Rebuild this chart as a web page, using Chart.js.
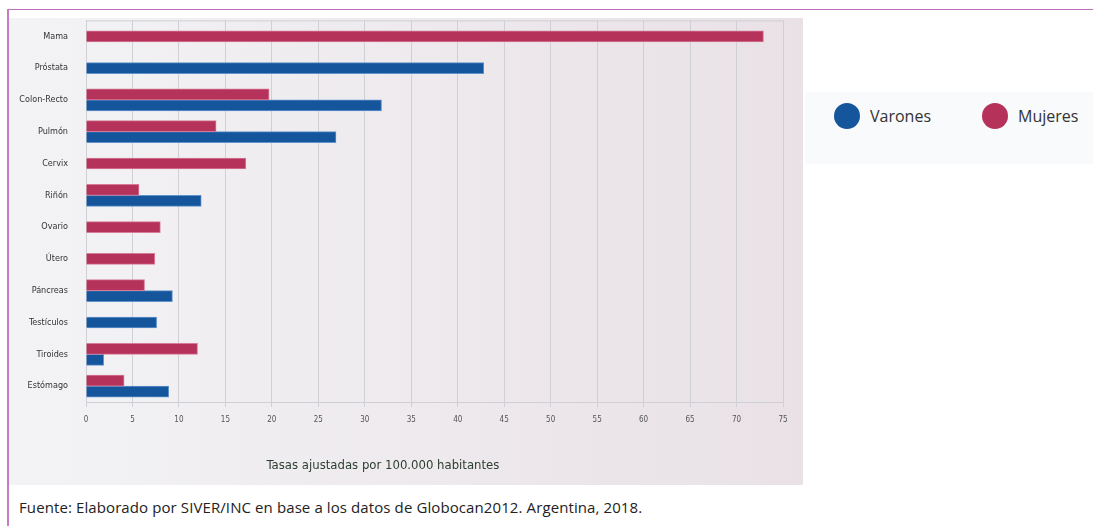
<!DOCTYPE html>
<html>
<head>
<meta charset="utf-8">
<script src="https://cdn.jsdelivr.net/npm/chart.js@4"></script>
<style>
    body { margin: 0; width: 1093px; height: 526px; background: #fff; position: relative; overflow: hidden; font-family: 'Open Sans', sans-serif; }
    .frame-top { position: absolute; left: 7px; top: 9px; right: 0; height: 1px; background: #c070c0; z-index: 2; }
    .frame-left { position: absolute; left: 7px; top: 9px; bottom: 0; width: 2px; background: #c47cc4; z-index: 2; }
    .panel { position: absolute; left: 8px; top: 18px; width: 795px; height: 467px; background: linear-gradient(to right, #f3f3f5, #e9e1e6); }
    .chart-box { position: absolute; left: 8px; top: 13px; width: 795px; height: 472px; }
    .legend { position: absolute; left: 805px; top: 92px; width: 288px; height: 72px; background: #f8fafb; }
    .legend-item { position: absolute; top: 11px; display: flex; align-items: center; font-size: 16px; color: #333; }
    .legend-dot { width: 26px; height: 26px; border-radius: 50%; margin-right: 10px; }
    .axis-title { position: absolute; left: 183px; width: 400px; top: 457px; text-align: center; font-family: 'Liberation Sans Narrow', 'DejaVu Sans Condensed', sans-serif; font-size: 13px; color: #2c3f31; }
    .source { position: absolute; left: 19px; top: 497px; font-size: 15px; color: #222; letter-spacing: 0.1px; }
</style>
</head>
<body>
<div class="frame-top"></div>
<div class="frame-left"></div>
<div class="panel"></div>
<div class="chart-box"><canvas id="chart"></canvas></div>
<div class="axis-title">Tasas ajustadas por 100.000 habitantes</div>
<div class="legend">
    <div class="legend-item" style="left: 29px;"><div class="legend-dot" style="background: #15559c"></div>Varones</div>
    <div class="legend-item" style="left: 177px;"><div class="legend-dot" style="background: #b5325a"></div>Mujeres</div>
</div>
<div class="source">Fuente: Elaborado por SIVER/INC en base a los datos de Globocan2012. Argentina, 2018.</div>

<script>
// Tasas ajustadas por 100.000 habitantes
const categories = ['Mama', 'Próstata', 'Colon-Recto', 'Pulmón', 'Cervix', 'Riñón', 'Ovario', 'Útero', 'Páncreas', 'Testículos', 'Tiroides', 'Estómago'];
const mujeres = [72.9, null, 19.7, 14.0, 17.2, 5.7, 8.0, 7.4, 6.3, null, 12.0, 4.1];
const varones = [null, 42.8, 31.8, 26.9, null, 12.4, null, null, 9.3, 7.6, 1.9, 8.9];

const colors = {
    mujeres: '#b5325a',
    varones: '#15559c',
    grid: '#cfcfd6'
};

const condensed = "'Liberation Sans Narrow', 'DejaVu Sans Condensed', sans-serif";

// thin box around the plot area
const plotFrame = {
    id: 'plotFrame',
    beforeDatasetsDraw(chart) {
        const { ctx, chartArea: a } = chart;
        ctx.save();
        ctx.strokeStyle = colors.grid;
        ctx.lineWidth = 1;
        ctx.strokeRect(a.left + 0.5, a.top + 0.5, a.right - a.left, a.bottom - a.top);
        ctx.restore();
    }
};

new Chart(document.getElementById('chart'), {
    type: 'bar',
    data: {
        labels: categories,
        datasets: [
            { label: 'Mujeres', data: mujeres, backgroundColor: colors.mujeres, borderColor: '#d77a96', borderWidth: 1 },
            { label: 'Varones', data: varones, backgroundColor: colors.varones, borderColor: '#5f93cc', borderWidth: 1 }
        ]
    },
    options: {
        indexAxis: 'y',
        responsive: true,
        maintainAspectRatio: false,
        animation: false,
        skipNull: true,
        barThickness: 11,
        layout: { padding: { top: 0, right: 20, left: 0, bottom: 0 } },
        plugins: {
            legend: { display: false },
            tooltip: { enabled: false }
        },
        scales: {
            x: {
                min: 0,
                max: 75,
                afterFit(scale) { scale.height = 83; },
                grid: { color: colors.grid, tickLength: 5 },
                border: { display: false },
                ticks: { stepSize: 5, padding: 8, color: '#555', font: { family: condensed, size: 8 } }
            },
            y: {
                afterFit(scale) { scale.width = 78; },
                grid: { drawOnChartArea: false, tickLength: 16, tickColor: 'rgba(0,0,0,0)' },
                border: { display: false },
                ticks: { padding: 2, color: '#333', font: { family: condensed, size: 9 } }
            }
        }
    },
    plugins: [plotFrame]
});
</script>
</body>
</html>
